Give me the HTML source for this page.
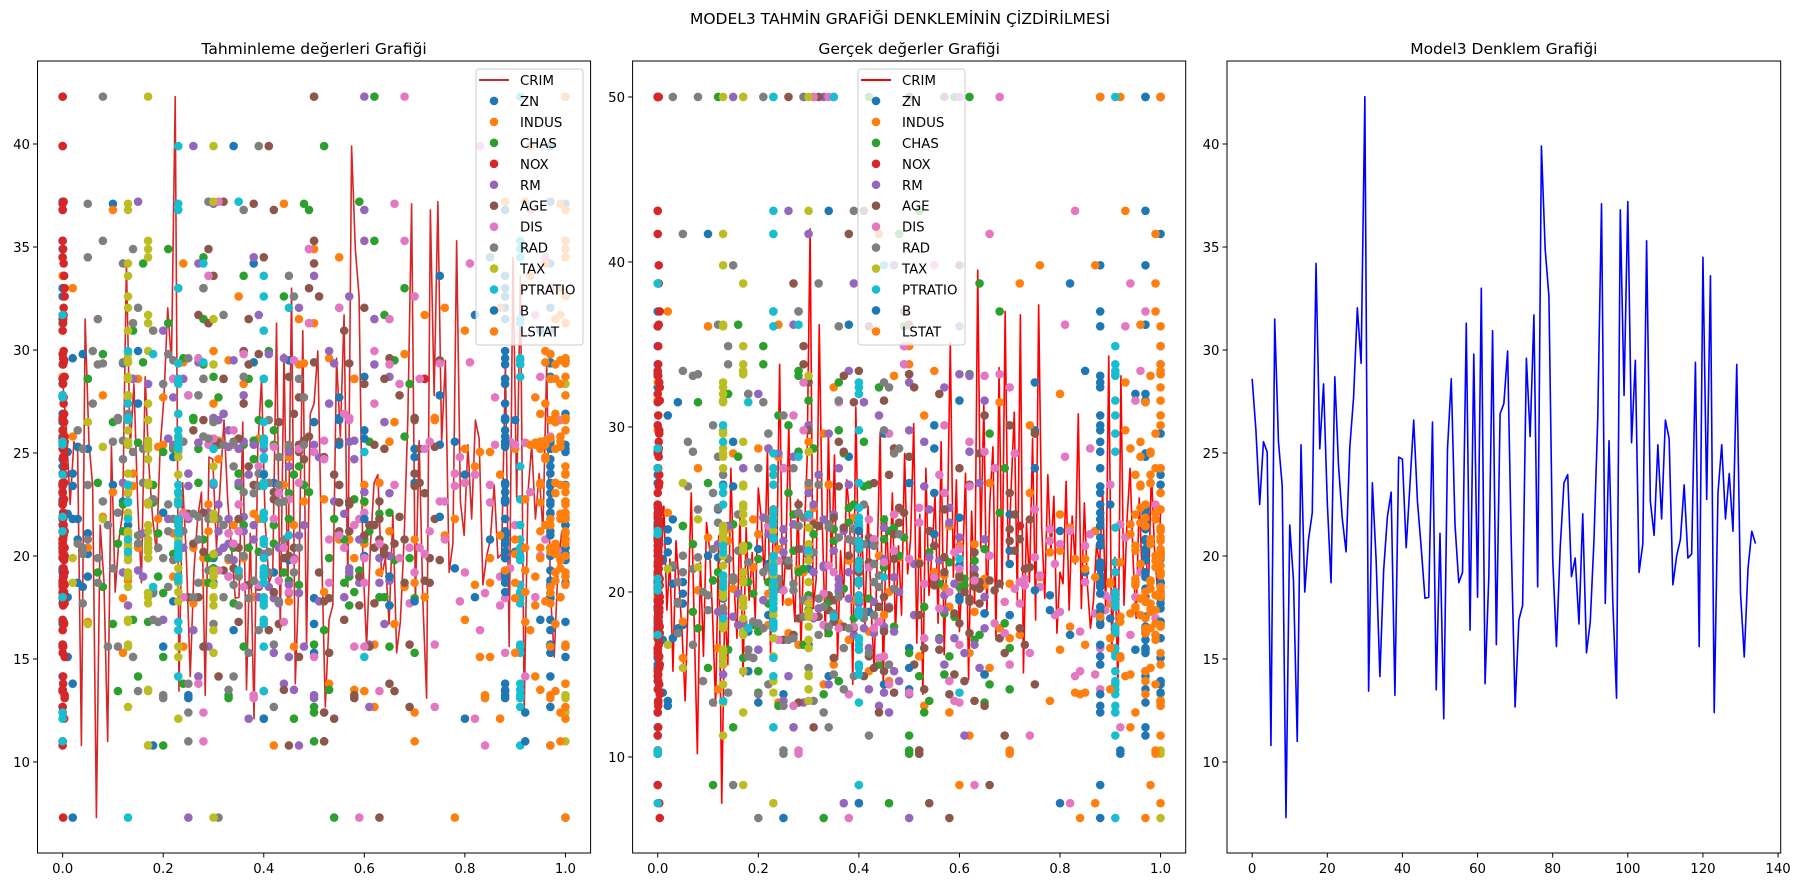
<!DOCTYPE html>
<html><head><meta charset="utf-8">
<style>
html,body{margin:0;padding:0;background:#fff;}
svg{display:block;font-family:"DejaVu Sans","Liberation Sans",sans-serif;}
</style></head>
<body>
<svg id="fig" width="1800" height="887" viewBox="0 0 1800 887"></svg>
<script>
// ---------------- data ----------------
const featureNames = ["ZN","INDUS","CHAS","NOX","RM","AGE","DIS","RAD","TAX","PTRATIO","B","LSTAT"];
const featureColors = ["#1f77b4","#ff7f0e","#2ca02c","#d62728","#9467bd","#8c564b","#e377c2","#7f7f7f","#bcbd22","#17becf","#1f77b4","#ff7f0e"];
const yPred = [28.6,26.1,22.5,25.55,25.05,10.8,31.5,25.55,23.4,7.3,21.5,18.8,11,25.4,18.25,20.8,22.1,34.2,25.2,28.35,22.6,18.7,28.7,24.35,21.8,20.2,25.3,27.7,32.05,29.35,42.3,13.44,23.55,19.8,14.15,19.3,21.9,23.1,13.24,24.8,24.7,20.4,23.45,26.6,22.65,20.4,17.95,18.0,26.5,13.5,21.1,12.1,25.2,28.6,21.5,18.7,19.2,31.3,16.4,29.8,18.0,33.0,13.8,19.0,30.94,15.7,26.9,27.4,29.95,20.4,12.67,16.9,17.6,29.6,25.8,31.7,18.5,39.9,34.9,32.6,19.9,15.6,20.4,23.55,23.95,19.0,19.9,16.7,22.05,15.3,16.8,20.8,26.7,37.1,17.7,25.6,17.8,13.1,36.8,27.8,37.2,25.5,29.5,19.2,20.6,35.3,22.65,21.0,25.4,21.8,26.6,25.7,18.6,20.0,20.8,23.45,19.9,20.1,29.4,15.6,34.5,22.75,33.6,12.4,23.05,25.4,21.8,24.0,21.2,29.3,18.2,15.1,19.4,21.2,20.6];
const yTrue = [24,21.6,50,18.9,22,15.2,33.1,20.4,23.1,13.4,19.6,17.8,10.2,29.8,16.1,21.2,22.6,36.2,19.3,27.5,20.6,17.2,31.6,23.9,19.5,18.4,24.4,28.7,39.8,25,50,8.3,22.9,14.4,11.8,18.5,20.1,23.3,13.8,21.7,25.1,19.4,22.2,30.1,21,18.2,16.6,17.1,26.6,12.7,19.9,7.2,24.7,28.4,20,16.8,15.6,33.8,14.9,31.5,17.4,37,13.1,18.7,32,16.3,27.1,26.4,29.1,19,11.3,16.5,15,30.7,24.8,38.7,17.8,43.1,34.9,32.4,21.4,14.6,20.2,22.5,23.7,18,19.1,15.4,21.9,14.1,16,20.3,26,41.7,17.5,24.2,18.6,6.3,36.1,27.5,50,24.1,29.6,18.8,20.7,33.2,22.1,20.9,23.5,21.5,25.3,24.5,17.9,19.7,20.5,22.8,18.1,20.6,28.2,13.3,33.4,21.8,32.7,10.4,23.2,26.5,22.4,23.8,20.8,28.5,17.6,13.9,19.8,21.2,50];
const yTrueLine = [24,21.6,25.2,18.9,22,15.2,23.1,20.4,17.5,13.4,19.6,26,17.8,10.2,21.8,16.1,24.2,22.6,18.5,13.1,23.4,7.2,19.3,15.6,27.5,20.6,17.2,24.8,14.9,23.9,19.5,22.4,18.4,26.3,24.4,20.7,28.7,16.3,25,21.1,33.8,19.2,22.2,30.1,21,18.2,25.6,16.6,23.1,27.9,42,19,20.8,36.2,24.1,17.3,29.6,21.4,28.3,15.9,22.5,19.7,26.8,24.5,14.4,31.2,20.2,23.7,18,25.2,19.1,15.4,21.9,29.7,14.1,24.6,20.3,26,17.4,22.8,18.6,28.4,21.1,23.3,30.2,16.9,24.7,13.8,27.5,19.8,22.4,25.9,18.1,29.1,16.2,23.5,35.1,20.9,26.8,17.6,21.3,27.2,14.7,24.9,19.3,39.5,22.7,31.4,18.7,25.5,28.8,17.1,33.6,20.2,37,21.8,26.4,30.9,19.4,36.8,15.1,24.2,20.6,29.3,18.3,37.4,23.9,19.6,27.1,22.3,25.8,17.5,21.2,20.5,26.7,18.9,24.6,21.7,30.8,19,25.4,20.4,17.8,19.5,22.9,21.6,26.2,18.7,34.3,16.4,22.1,14.2,33.1,19.2,24.4,27.5,21.9,18.4,25.7,20.8,23.1,19.9,27.3,22.6,20.1,24.9];
const xZN = [0,0,0.01,0,0.02,0.13,0,0,0.2,0.05,0,0.6,0,0.03,0.88,0,0.42,0,0,0.25,0,0.1,0,0.5,0,0.05,0.7,0,0,0.34,0,0.02,0.95,0,0.15,0,0.65,0,0.04,0,0.3,0,0.8,0,0.01,0,0.55,0,0.22,0,0,0.45,0,0.12,0,0.9,0,0.03,0,0.38,0,0.75,0,0.02,0,0.18,0,0.6];
const xINDUS = [0.0,0.3,0.42,0.65,0.78,0.13,0.0,0.55,0.24,0.36,0.7,0.82,0.0,0.2,0.48,0.6,0.33,0.92,0.1,0.45,0.26,0.74,0.05,0.38,0.58,0.87,0.15,0.28,0.5,0.68,0.02,0.4,0.62,0.3,0.95,0.18,0.53,0.72,0.0,0.35,0.46,0.8,0.22,0.66,0.12,0.57,0.44,0.31,0.84,0.08,0.27,0.63,0.5,0.76,0.19,0.39,0.0,0.6,0.9,0.24,0.52,0.7,0.34,0.14,0.47,0.85,0.29,0.58];
const xCHAS = [0.05,0.12,0.2,0.28,0.35,0.42,0.5,0.58,0.65,0.22,0.18,0.3,0.4,0.45,0.55,0.62,0.07,0.15,0.25,0.33,0.38,0.48,0.6,0.7,0.1,0.19,0.27,0.36,0.44,0.52,0.64,0.24,0.14,0.32,0.41,0.5,0.57,0.68,0.08,0.21,0.29,0.37,0.46,0.53,0.63,0.17,0.26,0.34,0.43,0.49,0.59,0.66,0.11,0.23,0.31,0.39,0.47,0.56,0.69,0.16,0.28,0.36,0.45,0.54,0.61,0.2,0.3,0.42];
const xNOX = [0,0.002,0,0.004,0.001,0,0.003,0,0.002,0.001,0,0.004,0,0.002,0.001,0,0.003,0.002,0,0.001,0.004,0,0.002,0.001,0,0.003,0,0.002,0.001,0,0.004,0.001,0,0.002,0.003,0,0.001,0.002,0,0.004,0.001,0,0.002,0.003,0,0.001,0,0.002,0.004,0,0.001,0.003,0,0.002,0.001,0,0.004,0,0.002,0.001,0.003,0,0.002,0,0.001,0.004,0,0.72];
const xRM = [0.14,0.31,0.45,0.62,0.25,0.38,0.52,0.18,0.29,0.4,0.55,0.65,0.21,0.33,0.47,0.6,0.12,0.27,0.36,0.5,0.58,0.3,0.23,0.42,0.64,0.16,0.35,0.48,0.57,0.26,0.39,0.44,0.2,0.32,0.53,0.61,0.13,0.28,0.41,0.49,0.63,0.24,0.37,0.46,0.56,0.19,0.3,0.43,0.51,0.6,0.15,0.34,0.4,0.54,0.22,0.31,0.45,0.59,0.17,0.27,0.38,0.5,0.65,0.25,0.36,0.47,0.57,0.33];
const xAGE = [0.26,0.34,0.45,0.55,0.63,0.72,0.3,0.4,0.5,0.6,0.68,0.37,0.28,0.47,0.57,0.66,0.75,0.32,0.42,0.52,0.62,0.7,0.35,0.25,0.44,0.54,0.64,0.73,0.29,0.39,0.49,0.59,0.69,0.36,0.46,0.56,0.65,0.27,0.41,0.51,0.61,0.71,0.33,0.43,0.53,0.63,0.38,0.48,0.58,0.67,0.31,0.4,0.5,0.6,0.74,0.35,0.45,0.55,0.64,0.28,0.42,0.52,0.62,0.7,0.37,0.47,0.57,0.32];
const xDIS = [0.22,0.35,0.5,0.65,0.78,0.9,0.28,0.45,0.6,0.72,0.85,0.95,0.3,0.42,0.55,0.68,0.8,0.92,0.25,0.38,0.52,0.66,0.76,0.88,0.98,0.33,0.47,0.58,0.7,0.83,0.94,0.27,0.4,0.56,0.62,0.74,0.87,0.97,0.36,0.49,0.6,0.71,0.82,0.91,0.24,0.44,0.57,0.69,0.79,0.93,0.31,0.46,0.63,0.75,0.86,0.99,0.39,0.53,0.67,0.81,0.96,0.29,0.43,0.59,0.73,0.84,0.89,0.34];
const xRAD = [0.03,0.1,0.17,0.24,0.31,0.38,0.45,0.05,0.12,0.2,0.27,0.34,0.41,0.48,0.08,0.15,0.22,0.29,0.36,0.43,0.04,0.11,0.19,0.26,0.33,0.4,0.47,0.07,0.14,0.21,0.28,0.35,0.42,0.06,0.13,0.18,0.25,0.32,0.39,0.46,0.09,0.16,0.23,0.3,0.37,0.44,0.05,0.12,0.2,0.27,0.34,0.41,0.08,0.15,0.22,0.29,0.36,0.43,0.04,0.11,0.18,0.25,0.32,0.39,0.07,0.14,0.21,0.28];
const xTAX = [0.13,0.17,0.23,0.3,0.13,0.17,1.0,0.23,0.13,0.3,0.17,0.13,0.23,0.08,0.13,0.17,0.3,0.23,0.13,1.0,0.17,0.13,0.23,0.3,0.05,0.13,0.17,0.23,0.13,0.3,0.17,1.0,0.13,0.23,0.17,0.13,0.3,0.23,0.13,0.17,0.02,0.13,0.23,0.17,0.3,0.13,1.0,0.17,0.23,0.13,0.3,0.13,0.17,0.23,0.13,0.17,0.3,0.23,1.0,0.13,0.17,0.13,0.23,0.3,0.13,0.17,0.23,0.13];
const xPTRATIO = [0.23,0.4,0.91,0.0,0.13,0.23,0.4,0.91,0.28,0.23,0.4,0.91,0.13,0.0,0.23,0.4,0.91,0.35,0.23,0.4,0.91,0.13,0.23,0.4,0.91,0.0,0.23,0.4,0.91,0.18,0.23,0.4,0.91,0.13,0.23,0.4,0.91,0.0,0.23,0.4,0.91,0.3,0.23,0.4,0.91,0.13,0.23,0.4,0.91,0.0,0.23,0.4,0.91,0.45,0.23,0.4,0.91,0.13,0.23,0.4,0.91,0.0,0.23,0.4,0.91,0.6,0.23,0.4];
const xB = [0.88,0.97,1.0,0.88,0.97,1.0,0.92,0.88,0.97,1.0,0.88,0.97,0.6,0.88,0.97,1.0,0.88,0.97,0.75,0.88,0.97,1.0,0.88,0.97,0.5,0.88,0.97,1.0,0.88,0.97,0.82,0.88,0.97,1.0,0.88,0.97,0.65,0.88,0.97,1.0,0.88,0.97,0.4,0.88,0.97,1.0,0.88,0.97,0.7,0.88,0.97,1.0,0.88,0.97,0.55,0.88,0.97,1.0,0.88,0.97,0.85,0.88,0.97,1.0,0.88,0.97,0.78,0.88];
const xLSTAT = [1.0,0.99,0.97,0.95,1.0,0.98,0.93,1.0,0.96,0.99,0.9,1.0,0.97,0.94,1.0,0.98,0.99,0.88,1.0,0.96,0.97,1.0,0.92,0.99,0.95,1.0,0.98,0.85,1.0,0.97,0.99,0.94,1.0,0.96,0.98,0.8,1.0,0.99,0.93,1.0,0.97,0.95,1.0,0.98,0.9,1.0,0.99,0.96,0.97,1.0,0.94,0.98,1.0,0.87,0.99,0.97,1.0,0.95,0.98,1.0,0.92,0.99,0.96,1.0,0.98,0.83,1.0,0.97];
const featureX = [xZN,xINDUS,xCHAS,xNOX,xRM,xAGE,xDIS,xRAD,xTAX,xPTRATIO,xB,xLSTAT];
const ticks01 = [0.0,0.2,0.4,0.6,0.8,1.0];
const ticksY1 = [10,15,20,25,30,35,40];
const ticksY2 = [10,20,30,40,50];
const ticksX3 = [0,20,40,60,80,100,120,140];
const ticksY3 = [10,15,20,25,30,35,40];

// --------------- helpers ---------------
const NS = "http://www.w3.org/2000/svg";
const svg = document.getElementById('fig');
function mk(tag, attrs, parent){
  const e = document.createElementNS(NS, tag);
  for (const k in attrs) e.setAttribute(k, attrs[k]);
  (parent||svg).appendChild(e);
  return e;
}
const TOP = 61, BOT = 853;
function makeAxes(left, right, xmin, xmax, ymin, ymax){
  return {
    left, right,
    x: v => left + (v - xmin) / (xmax - xmin) * (right - left),
    y: v => BOT - (v - ymin) / (ymax - ymin) * (BOT - TOP)
  };
}
const ax1 = makeAxes(37.5, 590.6, -0.05, 1.05, 5.58, 44.03);
const ax2 = makeAxes(632.6, 1185.7, -0.05, 1.05, 4.18, 52.18);
const ax3 = makeAxes(1227, 1780.7, -6.7, 140.7, 5.58, 44.03);

function drawFrame(ax, name){
  const r = mk('rect', {x:ax.left, y:TOP, width:ax.right-ax.left, height:BOT-TOP, fill:'none', stroke:'#000', 'stroke-width':1});
  
  
}
function drawTicks(ax, xt, yt, name, fmtX){
  const g = mk('g', {});
  
  
  xt.forEach(v => {
    const px = ax.x(v);
    mk('line', {x1:px, x2:px, y1:BOT, y2:BOT+4.5, stroke:'#000', 'stroke-width':1}, g);
    const t = mk('text', {x:px, y:BOT+20, 'font-size':13.3, 'text-anchor':'middle', fill:'#000'}, g);
    t.textContent = fmtX(v);
  });
  yt.forEach(v => {
    const py = ax.y(v);
    mk('line', {x1:ax.left-4.5, x2:ax.left, y1:py, y2:py, stroke:'#000', 'stroke-width':1}, g);
    const t = mk('text', {x:ax.left-7.5, y:py+4.8, 'font-size':13.3, 'text-anchor':'end', fill:'#000'}, g);
    t.textContent = String(v);
  });
}
function drawLine(ax, xs, ys, color, width, name){
  let d = '';
  ys.forEach((v,i) => { d += (i? 'L':'M') + ax.x(xs(i)).toFixed(2) + ',' + ax.y(v).toFixed(2); });
  const p = mk('path', {d, fill:'none', stroke:color, 'stroke-width':width, 'stroke-linejoin':'round'});
  
  
}
function drawScatter(ax, yvals, name){
  const g = mk('g', {});
  
  
  featureX.forEach((xs, j) => {
    const fg = mk('g', {fill: featureColors[j]}, g);
    
    
    const n = xs.length;
    xs.forEach((xv, k) => {
      const yi = (2*k + (j % 2)) % yvals.length;
      mk('circle', {cx: ax.x(xv).toFixed(2), cy: ax.y(yvals[yi]).toFixed(2), r: 4.3}, fg);
      const yi2 = (2*k + 1 - (j % 2)) % yvals.length;
      const xv2 = xs[n - 1 - k];
      mk('circle', {cx: ax.x(xv2).toFixed(2), cy: ax.y(yvals[yi2]).toFixed(2), r: 4.3}, fg);
    });
  });
}
function drawLegend(left, lineColor, name){
  const g = mk('g', {});
  
  
  mk('rect', {x:left, y:69, width:107, height:276, rx:3, fill:'#fff', 'fill-opacity':0.8, stroke:'#ccc', 'stroke-width':1}, g);
  const ln = mk('line', {x1:left+3, x2:left+33, y1:80, y2:80, stroke:lineColor, 'stroke-width':2}, g);
  
  
  const t0 = mk('text', {x:left+44, y:85, 'font-size':13.3, fill:'#000'}, g);
  t0.textContent = 'CRIM';
  featureNames.forEach((n, j) => {
    const cy = 80 + 20.95*(j+1);
    const c = mk('circle', {cx:left+18, cy:cy, r:4.3, fill:featureColors[j]}, g);
    
    
    const t = mk('text', {x:left+44, y:cy+5, 'font-size':13.3, fill:'#000'}, g);
    t.textContent = n;
  });
}
function title(x, y, txt, size, name){
  const t = mk('text', {x, y, 'font-size':size, 'text-anchor':'middle', fill:'#000'});
  
  
  t.textContent = txt;
}

// --------------- draw ---------------
title(900, 24, 'MODEL3 TAHMİN GRAFİĞİ DENKLEMİNİN ÇİZDİRİLMESİ', 15.5, 'figure-title');
title((ax1.left+ax1.right)/2, 54, 'Tahminleme değerleri Grafiği', 15.5, 'chart1-title');
title((ax2.left+ax2.right)/2, 54, 'Gerçek değerler Grafiği', 15.5, 'chart2-title');
title((ax3.left+ax3.right)/2, 54, 'Model3 Denklem Grafiği', 15.5, 'chart3-title');

const f1 = v => v.toFixed(1);
// axes 1
drawLine(ax1, i => i/(yPred.length-1), yPred, '#d62728', 1.6, 'crim-line-prediction');
drawScatter(ax1, yPred, 'scatter-prediction');
drawFrame(ax1, 'prediction-chart');
drawTicks(ax1, ticks01, ticksY1, 'prediction-chart', f1);
drawLegend(476, '#d62728', 'legend-prediction');
// axes 2
drawLine(ax2, i => i/(yTrueLine.length-1), yTrueLine, '#ff0000', 1.6, 'crim-line-true');
drawScatter(ax2, yTrue, 'scatter-true');
drawFrame(ax2, 'true-chart');
drawTicks(ax2, ticks01, ticksY2, 'true-chart', f1);
drawLegend(858, '#ff0000', 'legend-true');
// axes 3
drawLine(ax3, i => i, yPred, '#0000ff', 1.6, 'model3-line');
drawFrame(ax3, 'model3-chart');
drawTicks(ax3, ticksX3, ticksY3, 'model3-chart', v => String(v));
</script>
</body></html>
